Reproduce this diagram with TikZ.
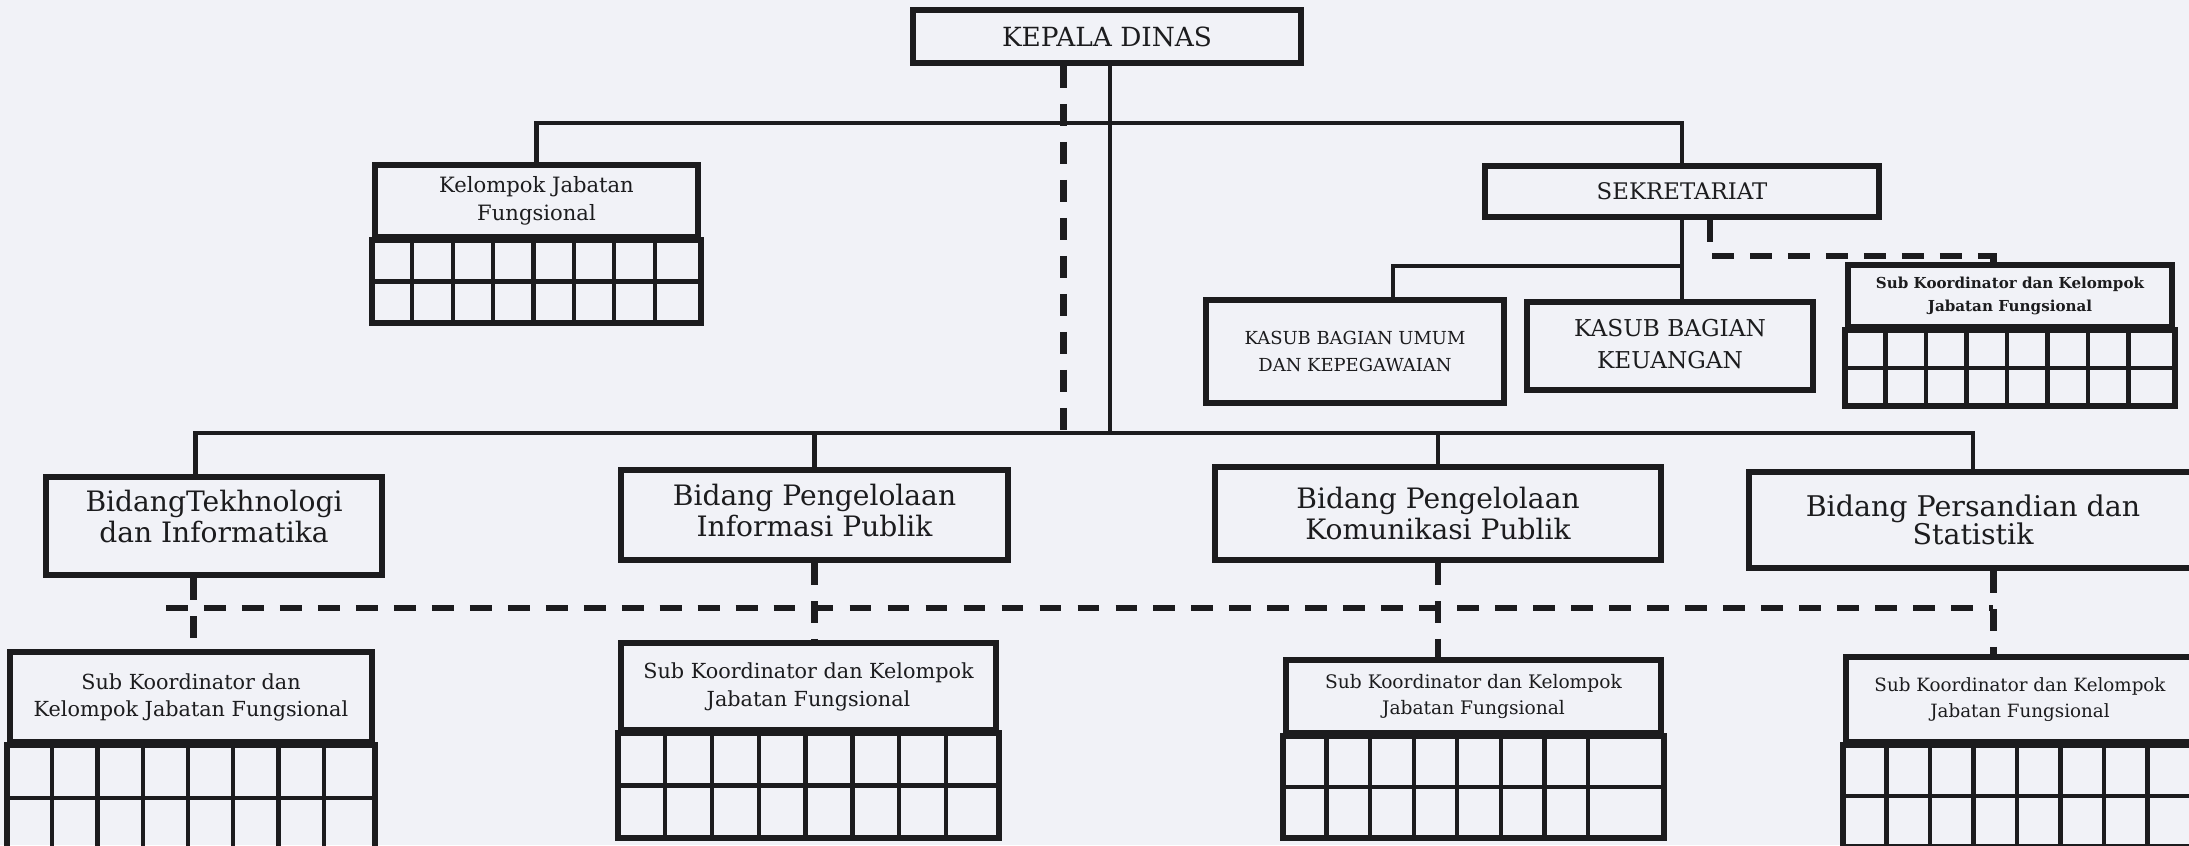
\documentclass[tikz,border=0pt]{standalone}
\usepackage{fontspec}
\setmainfont{DejaVu Serif}
\usetikzlibrary{calc}

\definecolor{paper}{RGB}{241,242,247}
\definecolor{ink}{RGB}{28,28,30}

\tikzset{
  unit/.style={rectangle, draw=ink, line width=1.7pt, inner sep=0pt, align=center, text=ink},
  link/.style={draw=ink, line width=1.3pt},
  dashlink/.style={draw=ink, line width=1.8pt, dash pattern=on 6.2pt off 4.6pt},
  cellline/.style={draw=ink, line width=1.2pt},
}

\newcommand{\fs}[2]{\fontsize{#1}{#2}\selectfont}

% two rows of cells under a header box: node, cell width, row height, inner lines
\newcommand{\cellrows}[4]{%
  \draw[draw=ink, line width=1.7pt] (#1.south west) rectangle ($(#1.south east)+(0,2*#3)$);
  \draw[cellline] ($(#1.south west)+(0,#3)$) -- ($(#1.south east)+(0,#3)$);
  \foreach \c in {1,...,#4}
    \draw[cellline] ($(#1.south west)+(\c*#2,0)$) -- ++(0,2*#3);
}

\begin{document}
\begin{tikzpicture}[x=0.01cm, y=-0.01cm]
    \useasboundingbox (0,0) rectangle (2189,845);
    \clip (0,0) rectangle (2189,845);
    \fill[paper] (0,0) rectangle (2189,845);

    \node[unit, minimum width=3.88cm, minimum height=0.53cm, font=\fs{7.5}{8}] (kd) at (1107,36.5) {KEPALA DINAS};

    \node[unit, minimum width=3.23cm, minimum height=0.72cm, font=\fs{6}{8}] (kjf) at (536.5,201) {Kelompok Jabatan\\Fungsional};
    \cellrows{kjf}{40.4}{41.5}{7}

    \node[unit, minimum width=3.94cm, minimum height=0.51cm, font=\fs{6.5}{8}] (sek) at (1682,191.5) {SEKRETARIAT};
    \node[unit, minimum width=2.98cm, minimum height=1.03cm, font=\fs{5.1}{7.8}] (umum) at (1355,351.5) {KASUB BAGIAN UMUM\\DAN KEPEGAWAIAN};
    \node[unit, minimum width=2.86cm, minimum height=0.88cm, font=\fs{6.6}{9.1}, text depth=0.05cm] (keu) at (1670,346) {KASUB BAGIAN\\KEUANGAN};
    \node[unit, minimum width=3.24cm, minimum height=0.62cm, font=\bfseries\fs{4.3}{6.4}] (subsek) at (2010,296) {Sub Koordinator dan Kelompok\\Jabatan Fungsional};
    \cellrows{subsek}{40.5}{38}{7}

    \node[unit, minimum width=3.36cm, minimum height=0.98cm, font=\fs{8}{7}, text depth=0.2cm] (tek) at (214,526) {BidangTekhnologi\\dan Informatika};
    \node[unit, minimum width=3.87cm, minimum height=0.90cm, font=\fs{8}{7}, text depth=0.1cm] (inf) at (814.5,515) {Bidang Pengelolaan\\Informasi Publik};
    \node[unit, minimum width=4.46cm, minimum height=0.93cm, font=\fs{8}{7}] (kom) at (1438,513.5) {Bidang Pengelolaan\\Komunikasi Publik};
    \node[unit, minimum width=4.48cm, minimum height=0.96cm, font=\fs{8.1}{8}] (per) at (1973,520) {Bidang Persandian dan\\Statistik};

    \node[unit, minimum width=3.62cm, minimum height=0.90cm, font=\fs{5.9}{7.7}] (subtek) at (191,697) {Sub Koordinator dan\\Kelompok Jabatan Fungsional};
    \cellrows{subtek}{45.25}{53}{7}
    \node[unit, minimum width=3.75cm, minimum height=0.87cm, font=\fs{5.9}{8}] (subinf) at (808.5,686.5) {Sub Koordinator dan Kelompok\\Jabatan Fungsional};
    \cellrows{subinf}{46.9}{52.5}{7}
    \node[unit, minimum width=3.75cm, minimum height=0.73cm, font=\fs{5.3}{7.4}] (subkom) at (1473.5,696.5) {Sub Koordinator dan Kelompok\\Jabatan Fungsional};
    \cellrows{subkom}{43.6}{51}{7}
    \node[unit, minimum width=3.48cm, minimum height=0.85cm, font=\fs{5.2}{7.2}] (subper) at (2020,699.5) {Sub Koordinator dan Kelompok\\Jabatan Fungsional};
    \cellrows{subper}{43.5}{51}{7}

    \coordinate (tb) at (1110,123);
    \coordinate (bb) at (1110,433);
    \draw[link] (kd.south -| tb) -- (bb);
    \draw[link] (kjf.north) |- (tb) -| (sek.north);
    \draw[link] ($(tek.north west)!0.446!(tek.north east)$) |- (bb) -| (per.north);
    \draw[link] (inf.north) -- (inf.north |- bb);
    \draw[link] (kom.north) -- (kom.north |- bb);
    \draw[dashlink] ($(kd.south west)!0.39!(kd.south east)$) coordinate (kdd) -- (kdd |- bb);

    \draw[link] (sek.south) -- (sek.south |- keu.north);
    \draw[link] ($(umum.north west)!0.625!(umum.north east)$) |- ($(sek.south)+(0,46)$);
    \draw[dashlink] ($(sek.south west)!0.57!(sek.south east)$) -- ++(0,36) -| ($(subsek.north west)!0.45!(subsek.north east)$);

    \draw[dashlink] ($(tek.south west)!0.44!(tek.south east)$) coordinate (tekd) -- (tekd |- subtek.north);
    \draw[dashlink] (inf.south) -- (inf.south |- subinf.north);
    \draw[dashlink] (kom.south) -- (kom.south |- subkom.north);
    \draw[dashlink] ($(per.south west)!0.545!(per.south east)$) coordinate (perd) -- (perd |- subper.north);
    \coordinate (dl) at (166,608);
    \draw[dashlink] (dl) -- (dl -| perd);
\end{tikzpicture}
\end{document}
